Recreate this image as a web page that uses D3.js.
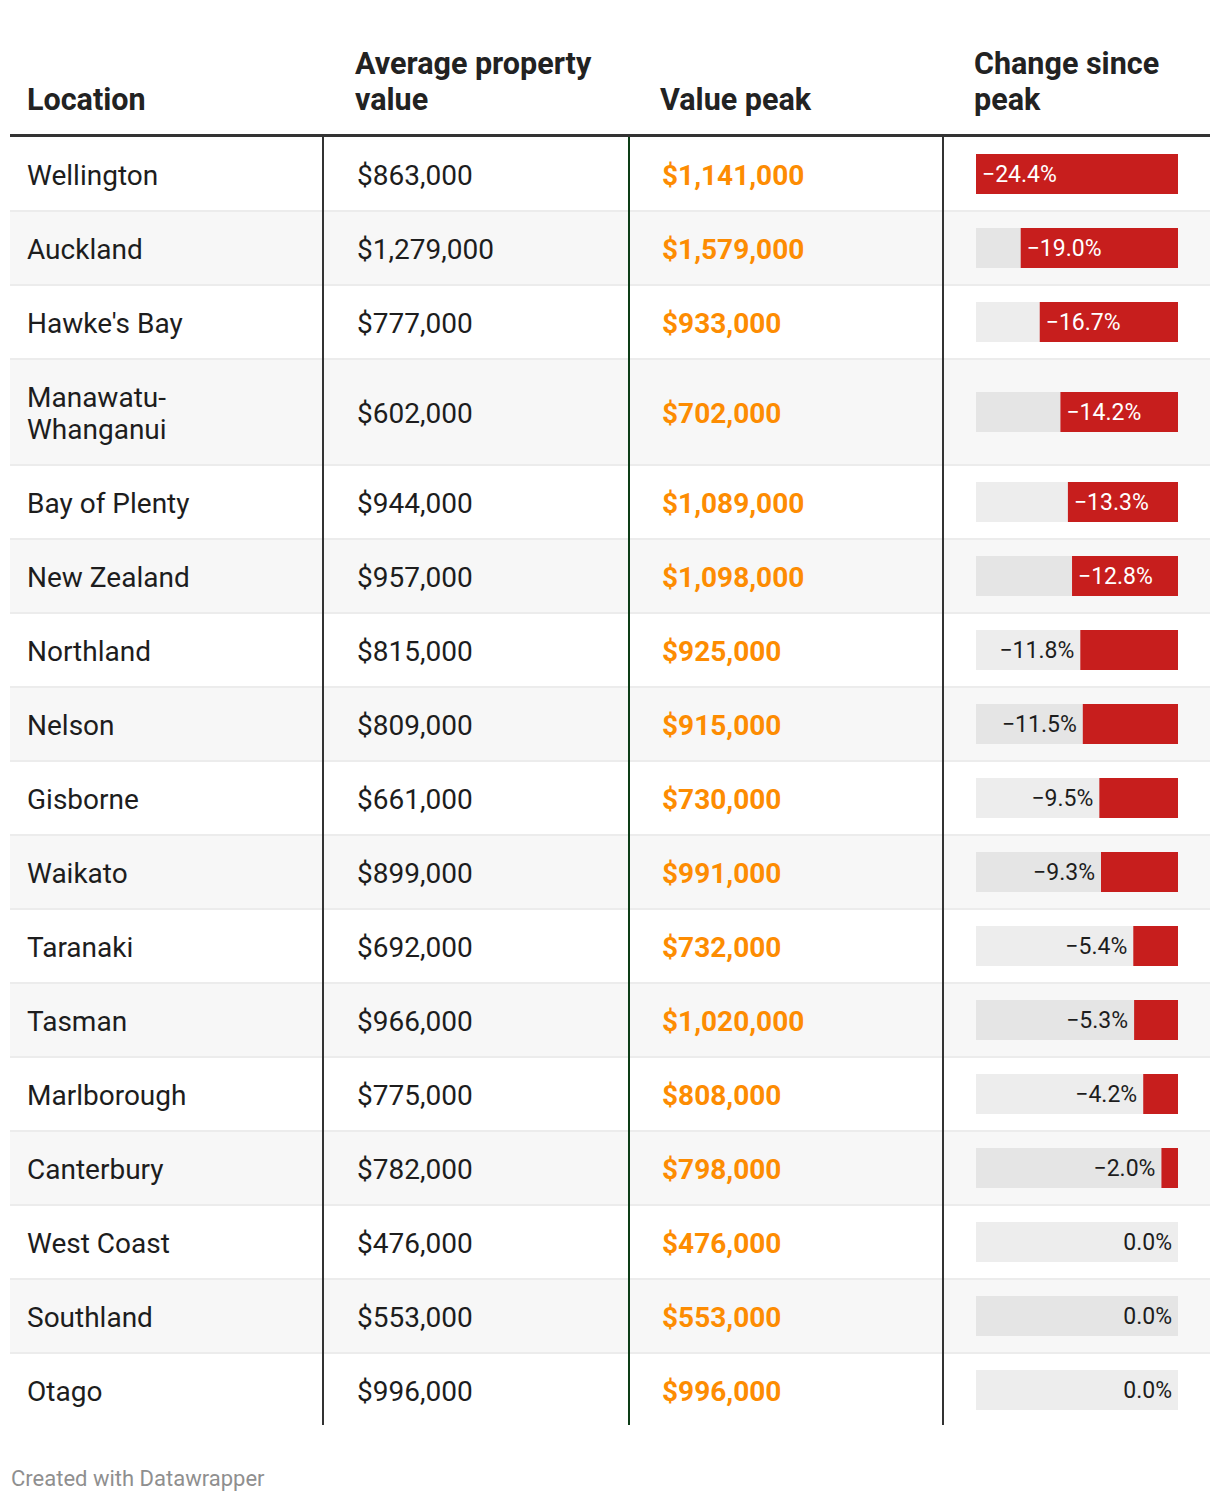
<!DOCTYPE html>
<html>
<head>
<meta charset="utf-8">
<script src="https://cdn.jsdelivr.net/npm/d3@7"></script>
<style>
  html, body { margin: 0; padding: 0; background: #fff; }
  svg text { font-family: Roboto, "Noto Sans", sans-serif; }
</style>
</head>
<body>
<svg id="chart" width="1220" height="1502"></svg>
<script>
const locations = ["Wellington","Auckland","Hawke's Bay","Manawatu-Whanganui","Bay of Plenty","New Zealand","Northland","Nelson","Gisborne","Waikato","Taranaki","Tasman","Marlborough","Canterbury","West Coast","Southland","Otago"];
const avgValues = [863000,1279000,777000,602000,944000,957000,815000,809000,661000,899000,692000,966000,775000,782000,476000,553000,996000];
const peakValues = [1141000,1579000,933000,702000,1089000,1098000,925000,915000,730000,991000,732000,1020000,808000,798000,476000,553000,996000];
const changes = [-24.4,-19.0,-16.7,-14.2,-13.3,-12.8,-11.8,-11.5,-9.5,-9.3,-5.4,-5.3,-4.2,-2.0,0.0,0.0,0.0];
const headers = [["Location"],["Average property","value"],["Value peak"],["Change since","peak"]];

const svg = d3.select("#chart");
const left = 10, right = 1210;
const colX = [10, 323, 629, 943];
const textX = [27, 357, 662];
const rowTop0 = 137;
const baseRowH = 74, lineStep = 32;
const bodySize = 28;

function wrapName(name) {
  return name.includes("-") && name.length > 14 ? [name.slice(0, name.indexOf("-") + 1), name.slice(name.indexOf("-") + 1)] : [name];
}
const rows = locations.map((loc, i) => ({
  loc, lines: wrapName(loc), avg: avgValues[i], peak: peakValues[i], chg: changes[i]
}));
let yAcc = rowTop0;
rows.forEach(r => { r.h = baseRowH + (r.lines.length - 1) * lineStep; r.y = yAcc; yAcc += r.h; });
const tableBottom = yAcc - 2;

const money = d3.format("$,");
const pct = d3.format(".1f");
const barX0 = 976, barW = 202, barH = 40;
const xScale = d3.scaleLinear().domain([0, d3.max(changes, d => Math.abs(d))]).range([0, barW]);

// header
const hdrX = [27, 355, 660, 974];
headers.forEach((lines, i) => {
  const n = lines.length;
  lines.forEach((t, j) => {
    svg.append("text").attr("x", hdrX[i]).attr("y", 110 - (n - 1 - j) * 36)
      .attr("font-size", 30.5).attr("font-weight", 700).attr("fill", "#222").text(t);
  });
});

// rows
const rg = svg.append("g").selectAll("g.row").data(rows).join("g").attr("class", "row");
rg.append("rect").attr("x", left).attr("y", d => d.y).attr("width", right - left).attr("height", d => d.h)
  .attr("fill", (d, i) => i % 2 ? "#f7f7f7" : "#fff");
rg.filter((d, i) => i > 0).append("rect").attr("x", left).attr("y", d => d.y - 1).attr("width", right - left).attr("height", 2)
  .attr("fill", "#ececec");

rg.each(function(d) {
  const sel = d3.select(this);
  const cy = d.y + d.h / 2;
  const n = d.lines.length;
  d.lines.forEach((t, j) => {
    sel.append("text").attr("x", textX[0]).attr("y", cy + 1 + (j - (n - 1) / 2) * lineStep)
      .attr("dy", "0.36em").attr("font-size", bodySize).attr("fill", "#1d1d1d").text(t);
  });
  sel.append("text").attr("x", textX[1]).attr("y", cy + 1).attr("dy", "0.36em")
    .attr("font-size", bodySize).attr("fill", "#1d1d1d").text(money(d.avg));
  sel.append("text").attr("x", textX[2]).attr("y", cy + 1).attr("dy", "0.36em")
    .attr("font-size", bodySize).attr("font-weight", 700).attr("fill", "#fd8c02").text(money(d.peak));
  sel.append("rect").attr("x", barX0).attr("y", cy - barH / 2).attr("width", barW).attr("height", barH)
    .attr("fill", "rgba(0,0,0,0.07)");
  const w = xScale(Math.abs(d.chg));
  sel.append("rect").attr("x", barX0 + barW - w).attr("y", cy - barH / 2).attr("width", w).attr("height", barH)
    .attr("fill", "#c71e1d");
  const label = pct(d.chg) + "%";
  const inside = w > 100;
  sel.append("text")
    .attr("x", d.chg === 0 ? barX0 + barW - 6 : (inside ? barX0 + barW - w + 6 : barX0 + barW - w - 6))
    .attr("y", cy).attr("dy", "0.36em").attr("font-size", 23)
    .attr("text-anchor", inside ? "start" : "end")
    .attr("fill", inside ? "#fff" : "#1d1d1d").text(label);
});

// vertical lines
svg.append("line").attr("x1", colX[1]).attr("x2", colX[1]).attr("y1", rowTop0).attr("y2", tableBottom).attr("stroke", "#333").attr("stroke-width", 2);
svg.append("line").attr("x1", colX[2]).attr("x2", colX[2]).attr("y1", rowTop0).attr("y2", tableBottom).attr("stroke", "#0d3d17").attr("stroke-width", 2);
svg.append("line").attr("x1", colX[3]).attr("x2", colX[3]).attr("y1", rowTop0).attr("y2", tableBottom).attr("stroke", "#333").attr("stroke-width", 2);

// header line
svg.append("rect").attr("x", left).attr("y", 134).attr("width", right - left).attr("height", 3).attr("fill", "#333");

// footer
svg.append("text").attr("x", 11).attr("y", 1486).attr("font-size", 22).attr("fill", "#8f8f8f").text("Created with Datawrapper");
</script>
</body>
</html>
